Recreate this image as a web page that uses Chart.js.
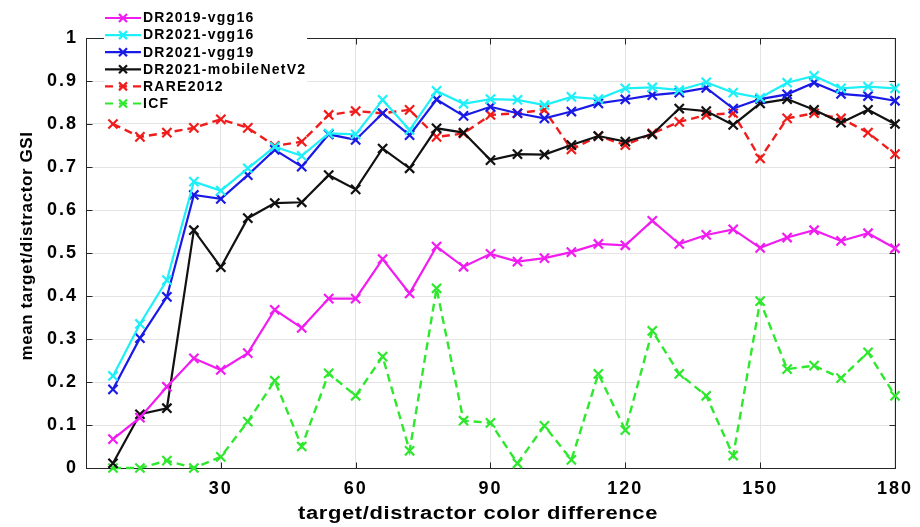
<!DOCTYPE html>
<html>
<head>
<meta charset="utf-8">
<script src="https://cdn.jsdelivr.net/npm/chart.js@4/dist/chart.umd.min.js"></script>
<style>
  html, body { margin: 0; padding: 0; background: #fff; }
  #wrap { width: 920px; height: 527px; }
</style>
</head>
<body>
<div id="wrap"><canvas id="c" width="920" height="527"></canvas></div>
<script>
// target/distractor colour difference (x values)
const colorDiff = [6, 12, 18, 24, 30, 36, 42, 48, 54, 60, 66, 72, 78, 84, 90,
                   96, 102, 108, 114, 120, 126, 132, 138, 144, 150, 156, 162, 168, 174, 180];

// mean target/distractor GSI per model
const dr2019Vgg16 = [0.067, 0.117, 0.189, 0.255, 0.228, 0.267, 0.368, 0.326, 0.394, 0.394,
                     0.486, 0.406, 0.515, 0.468, 0.498, 0.480, 0.488, 0.502, 0.521, 0.518,
                     0.575, 0.521, 0.542, 0.555, 0.512, 0.536, 0.553, 0.528, 0.546, 0.511];
const dr2021Vgg16 = [0.214, 0.335, 0.437, 0.666, 0.645, 0.697, 0.747, 0.726, 0.778, 0.776,
                     0.856, 0.786, 0.877, 0.847, 0.858, 0.856, 0.844, 0.863, 0.858, 0.883,
                     0.885, 0.879, 0.897, 0.873, 0.861, 0.896, 0.912, 0.883, 0.887, 0.883];
const dr2021Vgg19 = [0.183, 0.302, 0.398, 0.635, 0.626, 0.681, 0.740, 0.701, 0.776, 0.763,
                     0.825, 0.774, 0.857, 0.819, 0.840, 0.825, 0.813, 0.829, 0.848, 0.857,
                     0.867, 0.873, 0.884, 0.836, 0.858, 0.869, 0.896, 0.870, 0.865, 0.854];
const dr2021MobileNetV2 = [0.011, 0.125, 0.139, 0.553, 0.467, 0.581, 0.616, 0.618, 0.681, 0.648,
                           0.743, 0.697, 0.790, 0.780, 0.716, 0.730, 0.729, 0.751, 0.772, 0.759,
                           0.776, 0.836, 0.830, 0.798, 0.848, 0.858, 0.833, 0.803, 0.833, 0.800];
const rare2012 = [0.800, 0.770, 0.780, 0.791, 0.811, 0.791, 0.749, 0.759, 0.821, 0.830,
                  0.825, 0.833, 0.770, 0.778, 0.821, 0.825, 0.833, 0.741, 0.772, 0.751,
                  0.778, 0.805, 0.821, 0.825, 0.720, 0.813, 0.825, 0.813, 0.780, 0.730];
const icf = [0.000, 0.000, 0.017, 0.000, 0.026, 0.108, 0.203, 0.050, 0.220, 0.168,
             0.259, 0.040, 0.418, 0.110, 0.105, 0.011, 0.098, 0.019, 0.219, 0.088,
             0.319, 0.219, 0.168, 0.029, 0.388, 0.230, 0.238, 0.209, 0.269, 0.168];

// axis tick values and titles
const xTicks = [30, 60, 90, 120, 150, 180];
const yTicks = [0, 0.1, 0.2, 0.3, 0.4, 0.5, 0.6, 0.7, 0.8, 0.9, 1];
const xTitle = 'target/distractor color difference';
const yTitle = 'mean target/distractor GSI';

const FONT = '"Liberation Sans", Arial, Helvetica, sans-serif';
const AXIS_COLOR = '#262626';

function series(label, values, color, dashed) {
  return {
    label,
    data: colorDiff.map((x, i) => ({ x, y: values[i] })),
    borderColor: color,
    backgroundColor: color,
    borderWidth: dashed ? 2.4 : 2.2,
    borderDash: dashed ? [8, 5] : [],
    pointStyle: 'crossRot',
    pointRadius: 6.5,
    pointHoverRadius: 6.5,
    pointBorderWidth: 2.2,
    pointBorderColor: color,
    tension: 0,
    clip: false,
    fill: false
  };
}

const datasets = [
  series('DR2019-vgg16', dr2019Vgg16, '#f01cf0', false),
  series('DR2021-vgg16', dr2021Vgg16, '#1ef0f8', false),
  series('DR2021-vgg19', dr2021Vgg19, '#1a1ae6', false),
  series('DR2021-mobileNetV2', dr2021MobileNetV2, '#111111', false),
  series('RARE2012', rare2012, '#f01c1c', true),
  series('ICF', icf, '#2ee82e', true)
];

// wide bold lettering for tick labels
const spacing = {
  id: 'spacing',
  beforeDraw(chart) { chart.ctx.letterSpacing = '2px'; }
};

// closed axes box with inward tick marks on all four sides
const boxPlugin = {
  id: 'axesBox',
  beforeDatasetsDraw(chart) {
    const { ctx, chartArea: a, scales } = chart;
    ctx.save();
    ctx.strokeStyle = AXIS_COLOR;
    ctx.lineWidth = 1;
    ctx.setLineDash([]);
    const L = Math.round(a.left) + 0.5, R = Math.round(a.right) + 0.5;
    const T = Math.round(a.top) + 0.5, B = Math.round(a.bottom) + 0.5;
    ctx.strokeRect(L, T, R - L, B - T);
    const tl = 6;
    ctx.beginPath();
    xTicks.forEach(v => {
      const px = Math.round(scales.x.getPixelForValue(v)) + 0.5;
      ctx.moveTo(px, B); ctx.lineTo(px, B - tl);
      ctx.moveTo(px, T); ctx.lineTo(px, T + tl);
    });
    yTicks.forEach(v => {
      const py = Math.round(scales.y.getPixelForValue(v)) + 0.5;
      ctx.moveTo(L, py); ctx.lineTo(L + tl, py);
      ctx.moveTo(R, py); ctx.lineTo(R - tl, py);
    });
    ctx.stroke();
    ctx.restore();
  }
};

// axis titles (x title set in wide lettering)
const titlePlugin = {
  id: 'axisTitles',
  afterDraw(chart) {
    const { ctx } = chart;
    ctx.save();
    ctx.fillStyle = '#000';
    ctx.textAlign = 'center';
    ctx.textBaseline = 'middle';
    ctx.font = 'bold 18px ' + FONT;
    ctx.letterSpacing = '0.5px';
    ctx.save();
    ctx.translate(478, 514);
    ctx.scale(1.22, 1);
    ctx.fillText(xTitle, 0, 0);
    ctx.restore();
    ctx.font = 'bold 17px ' + FONT;
    ctx.letterSpacing = '0.6px';
    ctx.translate(27, 246);
    ctx.rotate(-Math.PI / 2);
    ctx.fillText(yTitle, 0, 0);
    ctx.restore();
  }
};

// boxed legend in the upper-left corner
const legendPlugin = {
  id: 'cornerLegend',
  afterDraw(chart) {
    const { ctx } = chart;
    const x0 = 104, y0 = 8, w = 203, rowH = 17.1, firstRow = 18;
    ctx.save();
    ctx.fillStyle = '#ffffff';
    ctx.fillRect(x0, y0, w, 104);
    ctx.font = 'bold 14px ' + FONT;
    ctx.letterSpacing = '1.25px';
    ctx.textBaseline = 'middle';
    ctx.textAlign = 'left';
    chart.data.datasets.forEach((ds, i) => {
      const y = firstRow + i * rowH;
      ctx.strokeStyle = ds.borderColor;
      ctx.lineWidth = 2.2;
      ctx.setLineDash(ds.borderDash.length ? [8, 6] : []);
      ctx.beginPath();
      ctx.moveTo(105, y); ctx.lineTo(141, y);
      ctx.stroke();
      ctx.setLineDash([]);
      const cx = 123, r = 4;
      ctx.lineWidth = 2.2;
      ctx.beginPath();
      ctx.moveTo(cx - r, y - r); ctx.lineTo(cx + r, y + r);
      ctx.moveTo(cx - r, y + r); ctx.lineTo(cx + r, y - r);
      ctx.stroke();
      ctx.fillStyle = '#000';
      ctx.fillText(ds.label, 143, y + 0.5);
    });
    ctx.restore();
  }
};

new Chart(document.getElementById('c'), {
  type: 'line',
  data: { datasets },
  plugins: [spacing, boxPlugin, titlePlugin, legendPlugin],
  options: {
    responsive: false,
    devicePixelRatio: 1,
    animation: false,
    events: [],
    layout: { padding: { top: 38, right: 22, left: 0, bottom: 0 } },
    plugins: { legend: { display: false }, tooltip: { enabled: false } },
    scales: {
      x: {
        type: 'linear',
        min: 0, max: 180,
        afterBuildTicks: s => { s.ticks = xTicks.map(v => ({ value: v })); },
        afterFit: s => { s.height = 59; },
        grid: { color: '#e4e4e4', lineWidth: 1, drawTicks: false },
        border: { display: false },
        ticks: { color: '#000', padding: 10, maxRotation: 0, font: { family: FONT, size: 18, weight: 'bold' } },
        title: { display: false }
      },
      y: {
        type: 'linear',
        min: 0, max: 1,
        afterBuildTicks: s => { s.ticks = yTicks.map(v => ({ value: v })); },
        afterFit: s => { s.width = 86; },
        grid: { color: '#e4e4e4', lineWidth: 1, drawTicks: false },
        border: { display: false },
        ticks: {
          color: '#000', padding: 8, font: { family: FONT, size: 18, weight: 'bold' },
          callback: v => (v === 0 ? '0' : v === 1 ? '1' : v.toFixed(1))
        },
        title: { display: false }
      }
    }
  }
});
</script>
</body>
</html>
